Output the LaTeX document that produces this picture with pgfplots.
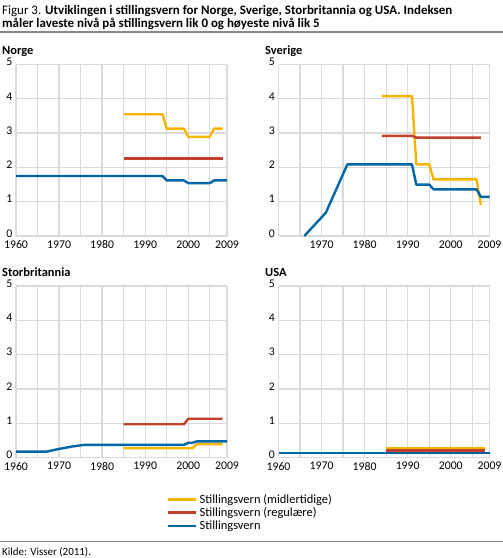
\documentclass[border=0pt]{standalone}
\usepackage{pgfplots}
\pgfplotsset{compat=1.18}
\usepackage{fontspec}
\setmainfont{Carlito}
\definecolor{cyel}{HTML}{F5B400}
\definecolor{cred}{HTML}{C1402B}
\definecolor{cblue}{HTML}{0066A4}
\definecolor{gridgray}{HTML}{DADADA}
\definecolor{rulegray}{HTML}{8A8A8A}
\pgfplotsset{
  panel/.style={
    scale only axis, width=211bp, height=171.5bp,
    xmin=1960, xmax=2009, ymin=0, ymax=5,
    axis line style={draw=none},
    xmajorgrids, ymajorgrids,
    grid style={color=gridgray, line width=1.3bp},
    major tick length=0pt,
    xtick={1960,1965,1970,1975,1980,1985,1990,1995,2000,2005,2009},
    xticklabels={1960,,1970,,1980,,1990,,2000,,2009},
    ytick={0,1,2,3,4,5},
    tick label style={font=\fontsize{11.8}{13}\selectfont},
    /pgf/number format/assume math mode=true,
    xticklabel style={yshift=-4.5bp, inner sep=0pt},
    yticklabel style={xshift=-3.5bp, yshift=2.5bp, inner sep=0pt},
    every axis plot/.append style={line width=2.4bp, line join=round},
    clip=false,
  },
}
\begin{document}
\begin{tikzpicture}
\path[use as bounding box] (0bp,0bp) rectangle (503bp,-558bp);
\node[anchor=base west, inner sep=0pt, font=\fontsize{13}{15}\selectfont] at (2bp,-14bp) {Figur 3. \textbf{Utviklingen i stillingsvern for Norge, Sverige, Storbritannia og USA. Indeksen}};
\node[anchor=base west, inner sep=0pt, font=\fontsize{13}{15}\selectfont\bfseries] at (2bp,-27.5bp) {måler laveste nivå på stillingsvern lik 0 og høyeste nivå lik 5};
\draw[rulegray, line width=1.2bp] (0bp,-32bp) -- (503bp,-32bp);
\node[anchor=base west, inner sep=0pt, font=\fontsize{12.5}{14}\selectfont\bfseries] at (2bp,-54bp) {Norge};
\node[anchor=base west, inner sep=0pt, font=\fontsize{12.5}{14}\selectfont\bfseries] at (265bp,-54bp) {Sverige};
\node[anchor=base west, inner sep=0pt, font=\fontsize{12.5}{14}\selectfont\bfseries] at (2bp,-276bp) {Storbritannia};
\node[anchor=base west, inner sep=0pt, font=\fontsize{12.5}{14}\selectfont\bfseries] at (265bp,-276bp) {USA};

% Norge
\begin{axis}[panel, at={(16bp,-236bp)}, anchor=south west]
\addplot[cyel] coordinates {(1985,3.55)(1994,3.55)(1995,3.13)(1999,3.13)(2000,2.89)(2005,2.89)(2006,3.13)(2008,3.13)};
\addplot[cred] coordinates {(1985,2.26)(2008,2.26)};
\addplot[cblue] coordinates {(1960,1.75)(1994,1.75)(1995,1.62)(1999,1.62)(2000,1.54)(2005,1.54)(2006,1.62)(2009,1.62)};
\end{axis}

% Sverige
\begin{axis}[panel, at={(278.5bp,-236bp)}, anchor=south west, xticklabels={,,1970,,1980,,1990,,2000,,2009}]
\addplot[cyel] coordinates {(1984,4.08)(1991,4.08)(1992,2.09)(1995,2.09)(1996,1.65)(2006,1.65)(2007,0.9)};
\addplot[cred] coordinates {(1984,2.92)(1991,2.92)(1992,2.87)(2007,2.87)};
\addplot[cblue] coordinates {(1966,0)(1971,0.68)(1976,2.09)(1991,2.09)(1992,1.5)(1995,1.5)(1996,1.36)(2006,1.36)(2007,1.14)(2009,1.14)};
\end{axis}

% Storbritannia
\begin{axis}[panel, at={(16bp,-457.5bp)}, anchor=south west,
  legend style={at={(axis description cs:0.716,-0.2)}, anchor=north west, draw=none, fill=none,
    font=\fontsize{12.5}{13}\selectfont, inner sep=0pt, row sep=-1.2bp,
    /tikz/every even column/.append style={column sep=4bp}},
  legend cell align=left,
  legend image code/.code={\draw[#1, line width=2.4bp] (0bp,0bp) -- (28bp,0bp);}]
\addplot[cyel] coordinates {(1985,0.27)(2001,0.27)(2002,0.39)(2008,0.39)};
\addlegendentry{Stillingsvern (midlertidige)}
\addplot[cred] coordinates {(1985,0.97)(1999,0.97)(2000,1.13)(2008,1.13)};
\addlegendentry{Stillingsvern (regulære)}
\addplot[cblue] coordinates {(1960,0.17)(1967,0.17)(1970,0.25)(1973,0.32)(1976,0.37)(1999,0.37)(2000,0.43)(2001,0.43)(2002,0.47)(2009,0.47)};
\addlegendentry{Stillingsvern}
\end{axis}

% USA
\begin{axis}[panel, at={(278.5bp,-457.5bp)}, anchor=south west]
\addplot[cyel] coordinates {(1985,0.26)(2008,0.26)};
\addplot[cred] coordinates {(1985,0.2)(2008,0.2)};
\addplot[cblue] coordinates {(1960,0.14)(2009,0.14)};
\end{axis}

\draw[rulegray, line width=1.2bp] (0bp,-541.5bp) -- (503bp,-541.5bp);
\node[anchor=base west, inner sep=0pt, font=\fontsize{11}{12}\selectfont] at (2bp,-555bp) {Kilde: Visser (2011).};
\end{tikzpicture}
\end{document}
